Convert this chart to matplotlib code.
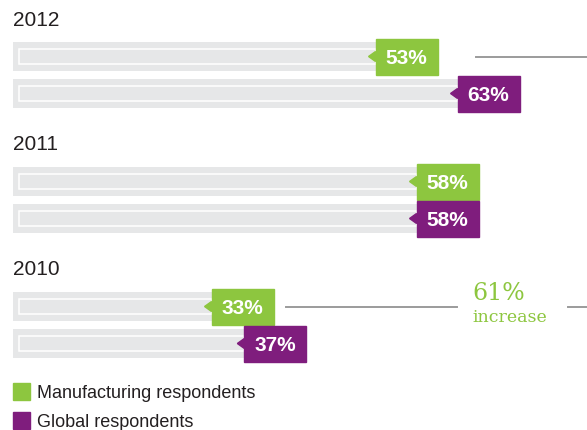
import matplotlib
matplotlib.use("Agg")
import matplotlib.pyplot as plt
from matplotlib.patches import Rectangle, Polygon

years = ["2012", "2011", "2010"]
manufacturing = [53, 58, 33]
global_resp = [63, 58, 37]
increase_label = "61%"
legend_labels = ["Manufacturing respondents", "Global respondents"]

GREEN = "#8dc63f"
PURPLE = "#7f1d7d"
GRAY = "#e6e7e8"
LINE = "#9b9b9b"
TEXT = "#231f20"

PX = 8.2          # pixels per percent
X0 = 7.2          # value at left edge of the figure
BAR_START = 8.8   # value where the grey tracks begin
BOX_W = 62 / PX
GROUP_STEP = 125


def px(n):
    return n / PX


fig = plt.figure(figsize=(5.87, 4.31), dpi=100)
ax = fig.add_axes([0, 0, 1, 1])
ax.set_xlim(X0, X0 + 587 / PX)
ax.set_ylim(431, 0)
ax.axis("off")


def draw_bar(value, yc, color):
    ax.barh(yc, value - BAR_START, left=BAR_START, height=29, color=GRAY, zorder=1)
    ax.add_patch(Rectangle((BAR_START + px(6), yc - 7.5), value - BAR_START - px(6), 15,
                           fill=False, edgecolor="white", linewidth=1.1, zorder=2))
    ax.add_patch(Rectangle((value, yc - 18), BOX_W, 36, color=color, zorder=3))
    ax.add_patch(Polygon([(value, yc - 5), (value - px(7), yc), (value, yc + 5)],
                         closed=True, color=color, zorder=3))
    ax.text(value + BOX_W / 2, yc + 1, f"{value}%", color="white", fontsize=15,
            fontweight="bold", ha="center", va="center", family="Liberation Sans", zorder=4)


for i, year in enumerate(years):
    top = 20 + GROUP_STEP * i
    ax.text(BAR_START, top, year, fontsize=15, color=TEXT, va="center",
            family="Liberation Sans")
    draw_bar(manufacturing[i], 57.5 + GROUP_STEP * i, GREEN)
    draw_bar(global_resp[i], 94.5 + GROUP_STEP * i, PURPLE)

# connector lines pointing to the increase note
y12 = 57.5
y10 = 57.5 + GROUP_STEP * 2
ax.plot([manufacturing[0] + BOX_W + px(38), X0 + 587 / PX], [y12, y12], color=LINE, lw=1.4)
ax.plot([manufacturing[2] + BOX_W + px(12), X0 + px(457)], [y10, y10], color=LINE, lw=1.4)
ax.plot([X0 + px(568), X0 + 587 / PX], [y10, y10], color=LINE, lw=1.4)
ax.text(X0 + px(472), y10 - 7, increase_label, color=GREEN, fontsize=17,
        family="DejaVu Serif", va="baseline")
ax.text(X0 + px(472), y10 + 15, "increase", color=GREEN, fontsize=12.5,
        family="DejaVu Serif", va="baseline")

# legend
for j, (lab, col) in enumerate(zip(legend_labels, [GREEN, PURPLE])):
    yc = 392.5 + 29 * j
    ax.add_patch(Rectangle((BAR_START, yc - 8.5), px(17), 17, color=col))
    ax.text(BAR_START + px(24), yc + 1, lab, fontsize=13, color=TEXT, va="center",
            family="Liberation Sans")

plt.savefig("out.png", dpi=100)
plt.close(fig)
